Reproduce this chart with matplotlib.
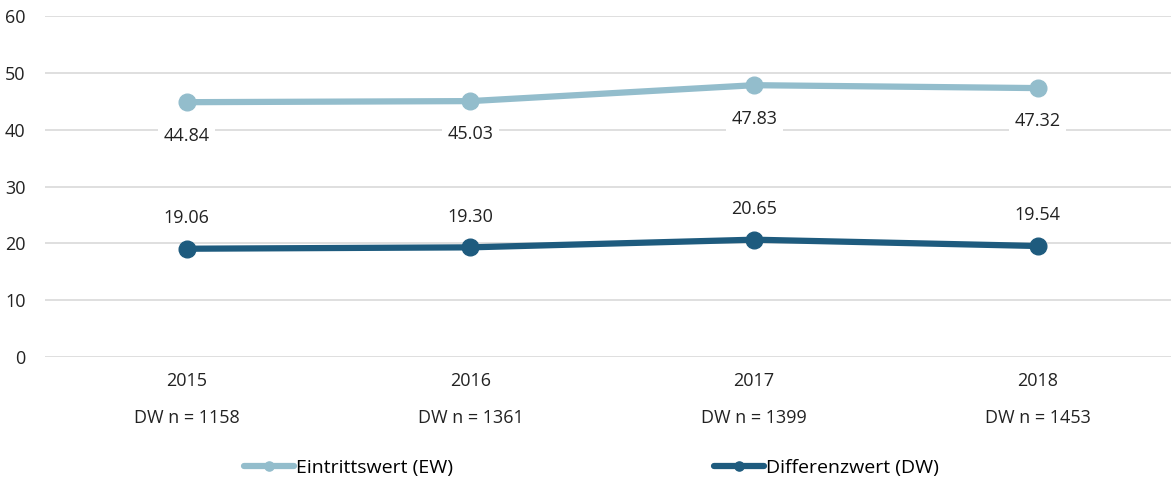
import matplotlib.pyplot as plt

plt.rcParams['font.family'] = ['Open Sans', 'DejaVu Sans']

years = ['2015', '2016', '2017', '2018']
dw_n = [1158, 1361, 1399, 1453]
ew_values = [44.84, 45.03, 47.83, 47.32]
dw_values = [19.06, 19.30, 20.65, 19.54]

ew_color = '#93BDCC'
dw_color = '#1E5B7E'
txt = '#222222'

fig = plt.figure(figsize=(11.71, 4.78), dpi=100)
ax = fig.add_axes([0.0384, 0.253, 0.969, 0.7135])

x = list(range(len(years)))
ax.plot(x, ew_values, color=ew_color, lw=4.5, marker='o', markersize=12,
        solid_capstyle='round', label='Eintrittswert (EW)', zorder=3, clip_on=False)
ax.plot(x, dw_values, color=dw_color, lw=4.5, marker='o', markersize=12,
        solid_capstyle='round', label='Differenzwert (DW)', zorder=3, clip_on=False)

box = dict(boxstyle='square,pad=0.3', fc='white', ec='none')
for xi, v in zip(x, ew_values):
    ax.annotate(f'{v:.2f}', (xi, v), xytext=(0, -24), textcoords='offset points',
                ha='center', va='center', fontsize=13, color=txt, bbox=box, zorder=4)
for xi, v in zip(x, dw_values):
    ax.annotate(f'{v:.2f}', (xi, v), xytext=(0, 22), textcoords='offset points',
                ha='center', va='center', fontsize=13, color=txt, bbox=box, zorder=4)

ax.set_xlim(-0.5, 3.5)
ax.set_ylim(0, 60)
ax.set_yticks(range(0, 61, 10))
ax.grid(axis='y', color='#D9D9D9', lw=1.2)
ax.set_axisbelow(True)
for s in ax.spines.values():
    s.set_visible(False)

ax.set_xticks(x)
ax.set_xticklabels([f'{y}\nDW n = {n}' for y, n in zip(years, dw_n)],
                   fontsize=13, color=txt, linespacing=2.35)
ax.tick_params(axis='x', length=0, pad=11)
ax.tick_params(axis='y', length=0, pad=14, labelsize=13, labelcolor=txt)

fig.legend(loc='lower center', bbox_to_anchor=(0.505, -0.034), ncol=2, frameon=False,
           fontsize=14, handlelength=2.6, handletextpad=0.1, columnspacing=13.4,
           markerscale=0.55)

fig.savefig('out.png', dpi=100)
